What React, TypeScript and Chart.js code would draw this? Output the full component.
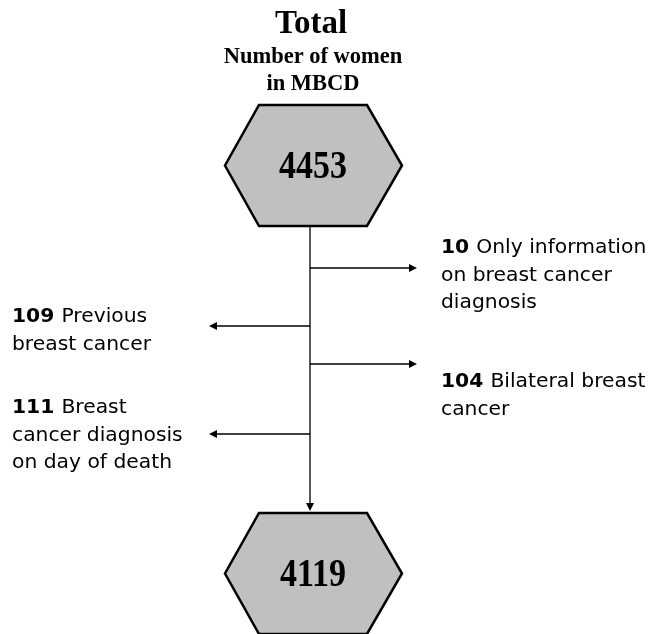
import React, { useEffect, useRef } from "react";
import { Chart, registerables } from "chart.js";

Chart.register(...registerables);

// ---- data ----
const titleText = "Total";
const subtitleLines = ["Number of women", "in MBCD"];
const startCount = 4453;
const endCount = 4119;
const exclusionCounts = [10, 109, 104, 111];
const exclusionLabels = [
  ["Only information", "on breast cancer", "diagnosis"],
  ["Previous", "breast cancer"],
  ["Bilateral breast", "cancer"],
  ["Breast", "cancer diagnosis", "on day of death"],
];
const exclusionSides = ["right", "left", "right", "left"];

const W = 651;
const H = 634;

const flowPlugin = {
  id: "flow",
  afterDraw(chart: any) {
    const ctx = chart.ctx as CanvasRenderingContext2D;
    const xs = chart.scales.x;
    const ys = chart.scales.y;
    const X = (v: number) => xs.getPixelForValue(v);
    const Y = (v: number) => ys.getPixelForValue(v);
    const cx = 310;

    ctx.save();
    ctx.fillStyle = "#fff";
    ctx.fillRect(0, 0, chart.width, chart.height);

    // titles
    ctx.fillStyle = "#000";
    ctx.textAlign = "center";
    ctx.textBaseline = "alphabetic";
    ctx.font = "bold 33px 'Liberation Serif'";
    ctx.fillText(titleText, X(cx + 1), Y(33));
    ctx.font = "bold 22.5px 'Liberation Serif'";
    ctx.fillText(subtitleLines[0], X(cx + 3), Y(63));
    ctx.fillText(subtitleLines[1], X(cx + 3), Y(90));

    const hexagon = (top: number, bottom: number, value: number) => {
      const mid = (top + bottom) / 2;
      ctx.beginPath();
      ctx.moveTo(X(259), Y(top));
      ctx.lineTo(X(367), Y(top));
      ctx.lineTo(X(402), Y(mid));
      ctx.lineTo(X(367), Y(bottom));
      ctx.lineTo(X(259), Y(bottom));
      ctx.lineTo(X(225), Y(mid));
      ctx.closePath();
      ctx.fillStyle = "#c0c0c0";
      ctx.fill();
      ctx.lineWidth = 2.5;
      ctx.strokeStyle = "#000";
      ctx.lineJoin = "miter";
      ctx.stroke();
      ctx.save();
      ctx.fillStyle = "#000";
      ctx.textAlign = "center";
      ctx.font = "bold 34px 'Liberation Serif'";
      ctx.translate(X(313), Y(mid + 12));
      ctx.scale(1, 1.2);
      ctx.fillText(String(value), 0, 0);
      ctx.restore();
    };

    hexagon(105, 226, startCount);
    hexagon(513, 634, endCount);

    // vertical connector
    ctx.strokeStyle = "#000";
    ctx.lineWidth = 1.3;
    ctx.beginPath();
    ctx.moveTo(X(cx), Y(226));
    ctx.lineTo(X(cx), Y(505));
    ctx.stroke();
    const arrowHead = (tx: number, ty: number, dir: string) => {
      ctx.beginPath();
      const L = 8, Hh = 4;
      if (dir === "down") {
        ctx.moveTo(X(tx), Y(ty));
        ctx.lineTo(X(tx - Hh), Y(ty - L));
        ctx.lineTo(X(tx + Hh), Y(ty - L));
      } else if (dir === "right") {
        ctx.moveTo(X(tx), Y(ty));
        ctx.lineTo(X(tx - L), Y(ty - Hh));
        ctx.lineTo(X(tx - L), Y(ty + Hh));
      } else {
        ctx.moveTo(X(tx), Y(ty));
        ctx.lineTo(X(tx + L), Y(ty - Hh));
        ctx.lineTo(X(tx + L), Y(ty + Hh));
      }
      ctx.closePath();
      ctx.fillStyle = "#000";
      ctx.fill();
    };
    arrowHead(cx, 511, "down");

    const arrowYs = [268, 326, 364, 434];
    const textTops = [253, 322, 387, 413];
    exclusionCounts.forEach((count, i) => {
      const side = exclusionSides[i];
      const ay = arrowYs[i];
      const tip = side === "right" ? 417 : 209;
      ctx.strokeStyle = "#000";
      ctx.lineWidth = 1.3;
      ctx.beginPath();
      ctx.moveTo(X(cx), Y(ay));
      ctx.lineTo(X(side === "right" ? tip - 6 : tip + 6), Y(ay));
      ctx.stroke();
      arrowHead(tip, ay, side);

      const tx = side === "right" ? 441 : 12;
      const lines = exclusionLabels[i];
      ctx.textAlign = "left";
      ctx.fillStyle = "#000";
      lines.forEach((ln, j) => {
        const by = Y(textTops[i] + j * 27.5);
        if (j === 0) {
          ctx.font = "bold 20.3px 'DejaVu Sans'";
          const s = String(count);
          ctx.fillText(s, X(tx), by);
          const w = ctx.measureText(s + " ").width;
          ctx.font = "20.3px 'DejaVu Sans'";
          ctx.fillText(ln, X(tx) + w, by);
        } else {
          ctx.font = "20.3px 'DejaVu Sans'";
          ctx.fillText(ln, X(tx), by);
        }
      });
    });
    ctx.restore();
  },
};

export default function App() {
  const ref = useRef<HTMLCanvasElement | null>(null);
  useEffect(() => {
    if (!ref.current) return;
    const chart = new Chart(ref.current, {
      type: "scatter",
      data: { datasets: [{ data: [], pointRadius: 0 }] },
      options: {
        animation: false,
        responsive: false,
        layout: { padding: 0 },
        plugins: { legend: { display: false }, tooltip: { enabled: false } },
        scales: {
          x: { type: "linear", min: 0, max: W, display: false },
          y: { type: "linear", min: 0, max: H, reverse: true, display: false },
        },
      },
      plugins: [flowPlugin],
    });
    return () => chart.destroy();
  }, []);
  return (
    <div style={{ position: "fixed", left: 0, top: 0, width: W, height: H, background: "#fff" }}>
      <canvas ref={ref} width={W} height={H} style={{ width: W, height: H, display: "block" }} />
    </div>
  );
}
